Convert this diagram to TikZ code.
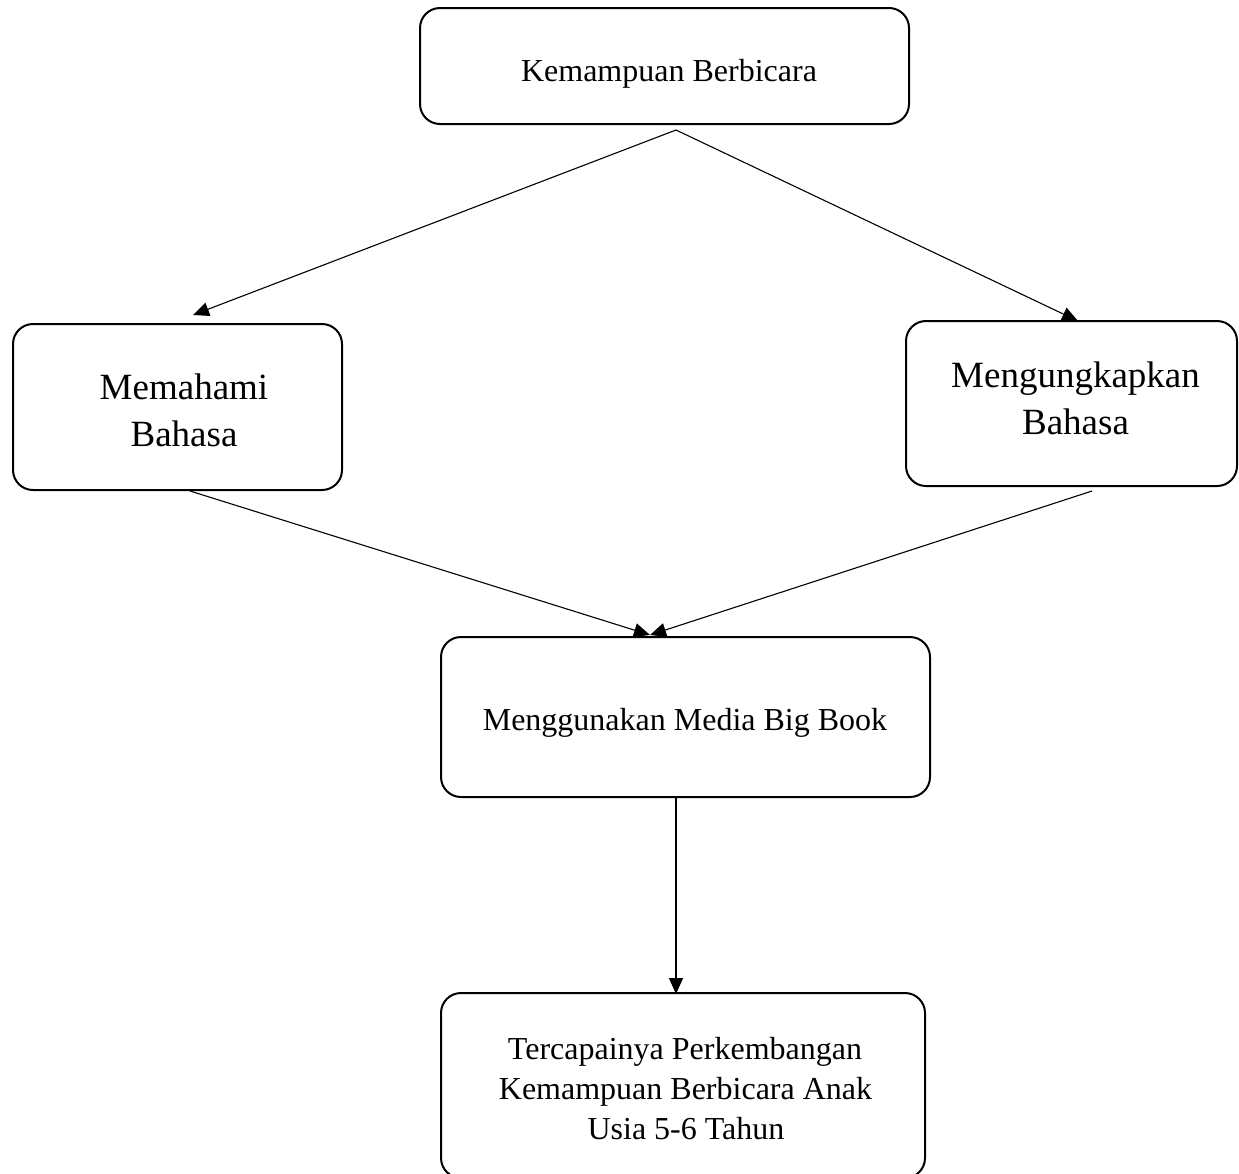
\documentclass[tikz,border=0pt]{standalone}
\usepackage{fontspec}
\setmainfont{Liberation Serif}
\usetikzlibrary{arrows.meta}
\begin{document}
\begin{tikzpicture}[x=1pt,y=-1pt,
  box/.style={draw,line width=2pt,rounded corners=20pt,inner sep=0pt},
  smalltxt/.style={font=\fontsize{32}{40}\selectfont,anchor=base,inner sep=0pt},
  bigtxt/.style={font=\fontsize{37}{48}\selectfont,anchor=base,inner sep=0pt},
  arr/.style={line width=1.1pt,-{Triangle[length=16pt,width=14pt]}}]
\useasboundingbox[fill=white] (0,0) rectangle (1239,1173);
% boxes
\node[box,minimum width=489pt,minimum height=116pt] (top) at (664.5,66) {};
\node[box,minimum width=329pt,minimum height=166pt] (left) at (177.5,407) {};
\node[box,minimum width=331pt,minimum height=165pt] (right) at (1071.5,403.5) {};
\node[box,minimum width=489pt,minimum height=160pt] (mid) at (685.5,717) {};
\node[box,minimum width=484pt,minimum height=185pt] (bot) at (683,1085.5) {};
% texts
\node[smalltxt] (topT) at (669,81) {Kemampuan Berbicara};
\node[bigtxt] (leftT1) at (184,399) {Memahami};
\node[bigtxt] (leftT2) at (184,446) {Bahasa};
\node[bigtxt] (rightT1) at (1075.5,387) {Mengungkapkan};
\node[bigtxt] (rightT2) at (1075.5,434) {Bahasa};
\node[smalltxt] (midT) at (685,730) {Menggunakan Media Big Book};
\node[smalltxt] (botT1) at (685,1059) {Tercapainya Perkembangan};
\node[smalltxt] (botT2) at (685.5,1099) {Kemampuan Berbicara Anak};
\node[smalltxt] (botT3) at (686,1139) {Usia 5-6 Tahun};
% connectors
\draw[arr] ([shift={(11.5,5)}]top.south) -- ([shift={(15.5,-8)}]left.north);
\draw[arr] ([shift={(11.5,5)}]top.south) -- ([shift={(6.5,1)}]right.north);
\draw[arr] ([shift={(12.5,0)}]left.south) -- ([shift={(-35.5,-1)}]mid.north);
\draw[arr] ([shift={(20.5,4)}]right.south) -- ([shift={(-35.5,-1)}]mid.north);
\draw[arr] ([shift={(-9.5,0)}]mid.south) -- ([shift={(-7,2)}]bot.north);
\end{tikzpicture}
\end{document}
